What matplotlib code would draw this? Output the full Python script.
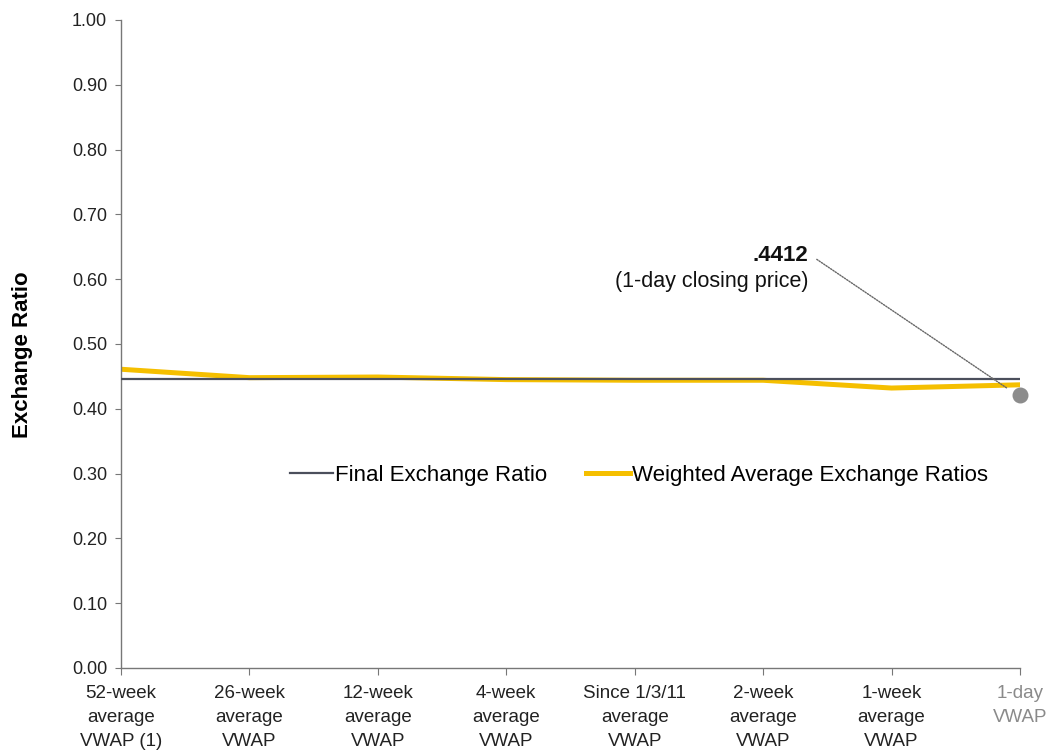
import matplotlib
matplotlib.use("Agg")
import matplotlib.pyplot as plt
import numpy as np

plt.rcParams['font.family'] = ['Liberation Sans', 'DejaVu Sans']

categories = ["52-week\naverage\nVWAP (1)", "26-week\naverage\nVWAP", "12-week\naverage\nVWAP",
              "4-week\naverage\nVWAP", "Since 1/3/11\naverage\nVWAP", "2-week\naverage\nVWAP",
              "1-week\naverage\nVWAP", "1-day\nVWAP"]
final_ratio = [0.446] * 8
weighted_avg = [0.461, 0.448, 0.449, 0.445, 0.444, 0.444, 0.432, 0.437]
closing_point = 0.422
closing_label = ".4412"
yticks = [0.0, 0.1, 0.2, 0.3, 0.4, 0.5, 0.6, 0.7, 0.8, 0.9, 1.0]

fig = plt.figure(figsize=(10.54, 7.54), dpi=100)
ax = fig.add_axes([0.1148, 0.1141, 0.8529, 0.8594])
x = np.arange(len(categories))

ax.plot(x, final_ratio, color="#4b4f5c", lw=1.6, label="Final Exchange Ratio", zorder=3)
ax.plot(x, weighted_avg, color="#f5bf00", lw=3.6, label="Weighted Average Exchange Ratios", zorder=2)
ax.scatter([x[-1]], [closing_point], s=110, color="#8c8c8c", zorder=4, clip_on=False)

ax.set_xlim(0, len(categories) - 1)
ax.set_ylim(0, 1.0)
ax.set_yticks(yticks)
ax.set_yticklabels([f"{v:.2f}" for v in yticks], fontsize=13, color="#222222")
ax.set_xticks(x)
ax.set_xticklabels(categories, fontsize=13.5, color="#222222", linespacing=1.55)
ax.get_xticklabels()[-1].set_color("#8a8a8a")
ax.tick_params(axis='y', length=4, color="#777777", pad=6)
ax.tick_params(axis='x', length=5, color="#777777", pad=7)
for s in ["top", "right"]:
    ax.spines[s].set_visible(False)
for s in ["left", "bottom"]:
    ax.spines[s].set_color("#777777")
    ax.spines[s].set_linewidth(1.0)

ax.set_ylabel("Exchange Ratio", fontsize=16, fontweight="bold")
ax.yaxis.set_label_coords(-0.098, 0.483)

ax.annotate("", xy=(6.92, 0.429), xytext=(5.40, 0.633),
            arrowprops=dict(arrowstyle="-", ls=(0, (1, 1)), color="#666666", lw=1.0))
ax.text(5.35, 0.636, closing_label, ha="right", va="center", fontsize=16, fontweight="bold", color="#111111")
ax.text(5.35, 0.596, "(1-day closing price)", ha="right", va="center", fontsize=15.5, color="#111111")

ax.legend(loc="center", bbox_to_anchor=(0.576, 0.297), ncol=2, frameon=False, fontsize=16,
          handlelength=1.95, handletextpad=0.1, columnspacing=1.75)

fig.savefig("out.png", dpi=100)
